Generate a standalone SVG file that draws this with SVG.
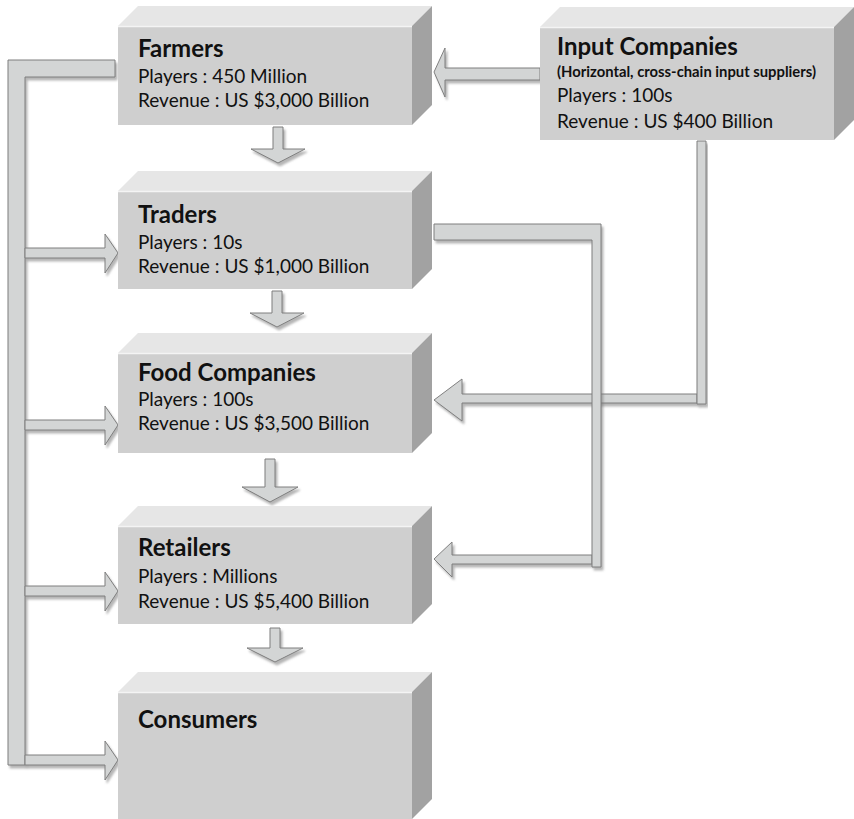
<svg xmlns="http://www.w3.org/2000/svg" width="854" height="819" viewBox="0 0 854 819">
<defs>
<filter id="sh" x="-10%" y="-10%" width="130%" height="130%">
<feDropShadow dx="2" dy="3" stdDeviation="0.8" flood-color="#7a7a7a" flood-opacity="0.55"/>
</filter>
</defs>
<style>
.front{fill:#cfcfcf}
.top{fill:#e6e6e6}
.side{fill:#a2a2a2}
.edge{stroke:#f4f4f4;stroke-width:1.5}
.arr{fill:#d3d5d5;stroke:#7f7f7f;stroke-width:1;filter:url(#sh)}
.t{font-family:Lato,"Liberation Sans",sans-serif;font-weight:bold;font-size:24px;fill:#111}
.s{font-family:Lato,"Liberation Sans",sans-serif;font-weight:bold;font-size:14.8px;fill:#111}
.l{font-family:Lato,"Liberation Sans",sans-serif;font-size:19px;fill:#111}
</style>
<rect width="854" height="819" fill="#fff"/>
<g id="connectors">
<path class="arr" d="M115,60 H8 V765 H25 V77 H115 Z"/>
<path class="arr" d="M25,248 H105 V234 L118,253 L105,273 V258 H25 Z"/>
<path class="arr" d="M25,420 H105 V406 L118,425 L105,445 V430 H25 Z"/>
<path class="arr" d="M25,586 H105 V572 L118,591 L105,611 V596 H25 Z"/>
<path class="arr" d="M25,755 H105 V741 L118,760 L105,780 V765 H25 Z"/>
<path class="arr" d="M540,68 H445 V48 L434,72 L445,97 V80 H540 Z"/>
<path class="arr" d="M697,394 H462 V379 L434,400 L462,421 V403 H697 Z"/>
<path class="arr" d="M697,141 H706 V404 H697 Z"/>
<path class="arr" d="M592,555 H452 V542 L434,559 L452,577 V564 H592 Z"/>
<path class="arr" d="M434,224 H601 V567 H592 V240 H434 Z"/>
<path class="arr" d="M273,127 H283 V149 H305 L278,163 L251,149 H273 Z"/>
<path class="arr" d="M272,291 H282 V313 H304 L277,327 L250,313 H272 Z"/>
<path class="arr" d="M265,459 H275 V487 H298 L270,502 L242,487 H265 Z"/>
<path class="arr" d="M270,628 H280 V648 H303 L275,662 L247,648 H270 Z"/>
</g>
<g id="farmers">
<polygon class="top" points="118,26 138,6 432,6 412,26"/>
<polygon class="side" points="412,26 432,6 432,105 412,125"/>
<rect class="front" x="118" y="26" width="294" height="99"/>
<line class="edge" x1="118" y1="26.5" x2="412" y2="26.5"/>
<text class="t" x="138" y="57">Farmers</text>
<text class="l" x="138" y="83">Players : 450 Million</text>
<text class="l" x="138" y="107">Revenue : US $3,000 Billion</text>
</g>
<g id="input">
<polygon class="top" points="540,27 560,7 854,7 834,27"/>
<polygon class="side" points="834,27 854,7 854,120 834,140"/>
<rect class="front" x="540" y="27" width="294" height="113"/>
<line class="edge" x1="540" y1="27.5" x2="834" y2="27.5"/>
<text class="t" x="557" y="55">Input Companies</text>
<text class="s" x="557" y="77">(Horizontal, cross-chain input suppliers)</text>
<text class="l" x="557" y="102">Players : 100s</text>
<text class="l" x="557" y="128">Revenue : US $400 Billion</text>
</g>
<g id="traders">
<polygon class="top" points="118,191 138,171 432,171 412,191"/>
<polygon class="side" points="412,191 432,171 432,269 412,289"/>
<rect class="front" x="118" y="191" width="294" height="98"/>
<line class="edge" x1="118" y1="191.5" x2="412" y2="191.5"/>
<text class="t" x="138" y="223">Traders</text>
<text class="l" x="138" y="249">Players : 10s</text>
<text class="l" x="138" y="273">Revenue : US $1,000 Billion</text>
</g>
<g id="food">
<polygon class="top" points="118,353 138,333 432,333 412,353"/>
<polygon class="side" points="412,353 432,333 432,433 412,453"/>
<rect class="front" x="118" y="353" width="294" height="100"/>
<line class="edge" x1="118" y1="353.5" x2="412" y2="353.5"/>
<text class="t" x="138" y="381">Food Companies</text>
<text class="l" x="138" y="406">Players : 100s</text>
<text class="l" x="138" y="430">Revenue : US $3,500 Billion</text>
</g>
<g id="retailers">
<polygon class="top" points="118,526 138,506 432,506 412,526"/>
<polygon class="side" points="412,526 432,506 432,604 412,624"/>
<rect class="front" x="118" y="526" width="294" height="98"/>
<line class="edge" x1="118" y1="526.5" x2="412" y2="526.5"/>
<text class="t" x="138" y="556">Retailers</text>
<text class="l" x="138" y="583">Players : Millions</text>
<text class="l" x="138" y="608">Revenue : US $5,400 Billion</text>
</g>
<g id="consumers">
<polygon class="top" points="118,692 138,672 432,672 412,692"/>
<polygon class="side" points="412,692 432,672 432,799 412,819"/>
<rect class="front" x="118" y="692" width="294" height="127"/>
<line class="edge" x1="118" y1="692.5" x2="412" y2="692.5"/>
<text class="t" x="138" y="728">Consumers</text>
</g>
</svg>
